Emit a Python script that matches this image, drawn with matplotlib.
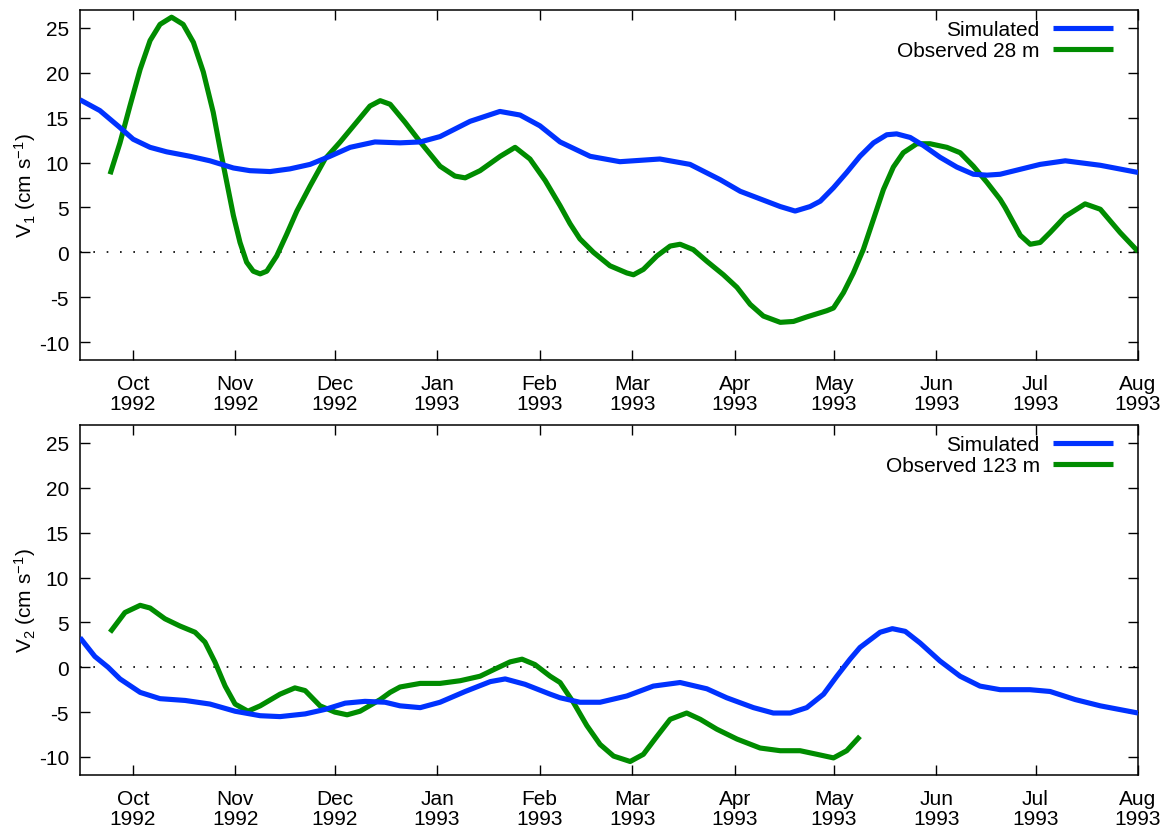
import numpy as np
import matplotlib
matplotlib.use("Agg")
import matplotlib.pyplot as plt
import matplotlib.dates as mdates

plt.rcParams['font.family'] = ['Liberation Sans', 'DejaVu Sans']
plt.rcParams['mathtext.fontset'] = 'custom'
plt.rcParams['mathtext.rm'] = 'Liberation Sans'
plt.rcParams['mathtext.it'] = 'Liberation Sans:italic'
plt.rcParams['axes.unicode_minus'] = False

# days since 1992-09-15
t0 = np.datetime64('1992-09-15')

sim1_days = [0, 6.0, 12.1, 16.1, 21.2, 26.2, 33.3, 39.3, 46.4, 51.4, 57.5, 63.5, 69.6, 75.6,
             81.7, 89.2, 96.8, 102.9, 108.9, 118.0, 127.0, 133.1, 139.1, 145.2, 154.3, 163.3,
             175.4, 184.5, 193.6, 199.7, 211.8, 216.3, 220.8, 223.9, 227.9, 231.9, 235.9,
             240.0, 244.0, 247.0, 251.1, 255.1, 260.1, 265.2, 270.2, 274.3, 278.3, 290.4,
             298.0, 308.6, 320.0]
sim1 = [17.0, 15.8, 13.9, 12.6, 11.7, 11.2, 10.7, 10.2, 9.4, 9.1, 9.0, 9.3, 9.8, 10.7,
        11.7, 12.3, 12.2, 12.3, 12.9, 14.6, 15.7, 15.3, 14.1, 12.3, 10.7, 10.1,
        10.4, 9.8, 8.1, 6.8, 5.1, 4.6, 5.1, 5.7, 7.2, 8.9, 10.7,
        12.2, 13.1, 13.2, 12.8, 11.9, 10.6, 9.5, 8.7, 8.6, 8.7, 9.8,
        10.2, 9.7, 8.9]

obs1_days = [9.1, 12.1, 15.1, 18.2, 21.2, 24.2, 27.7, 31.2, 34.3, 37.3, 40.3, 42.4, 44.4,
             46.4, 48.4, 50.4, 52.4, 54.5, 56.5, 59.5, 62.5, 65.6, 69.6, 74.1, 78.7, 83.2,
             87.7, 90.8, 93.8, 98.3, 102.9, 108.9, 113.4, 116.5, 121.0, 127.1, 131.6, 136.1,
             140.7, 145.2, 148.2, 151.2, 155.3, 160.3, 165.4, 167.4, 170.4, 174.5, 178.5,
             181.5, 185.5, 189.6, 194.6, 198.7, 202.7, 206.7, 211.8, 215.8, 219.8, 225.9,
             227.9, 230.9, 233.9, 236.9, 240.0, 243.0, 246.0, 249.0, 253.1, 257.1, 262.2,
             266.2, 270.2, 274.3, 278.3, 279.8, 284.4, 287.4, 290.4, 293.4, 298.0, 304.0,
             308.6, 314.6, 320.0]
obs1 = [8.7, 12.2, 16.3, 20.4, 23.6, 25.4, 26.2, 25.4, 23.4, 20.1, 15.6, 11.5, 7.8,
        4.1, 1.1, -1.1, -2.1, -2.4, -2.1, -0.4, 2.0, 4.6, 7.4, 10.4, 12.3, 14.3,
        16.3, 16.9, 16.5, 14.5, 12.3, 9.6, 8.5, 8.3, 9.1, 10.7, 11.7, 10.4,
        8.0, 5.2, 3.2, 1.5, 0.0, -1.5, -2.3, -2.5, -1.9, -0.4, 0.7,
        0.9, 0.3, -1.0, -2.5, -3.9, -5.8, -7.1, -7.8, -7.7, -7.2, -6.5,
        -6.2, -4.5, -2.3, 0.3, 3.7, 7.0, 9.5, 11.1, 12.1, 12.1, 11.7,
        11.1, 9.6, 7.8, 5.9, 5.0, 1.9, 0.9, 1.1, 2.2, 4.0, 5.4,
        4.8, 2.2, 0.1]

sim2_days = [0, 4.5, 8.5, 12.1, 18.2, 24.2, 31.8, 39.3, 46.9, 54.5, 60.5, 68.1, 74.1, 80.2,
             86.2, 92.3, 96.8, 102.9, 108.9, 116.5, 124.1, 128.6, 134.6, 142.2, 145.2, 151.2,
             157.3, 165.4, 173.4, 181.5, 189.6, 195.6, 203.7, 209.7, 214.8, 219.8, 224.9,
             228.9, 232.9, 235.9, 242.0, 245.7, 249.6, 254.1, 260.1, 266.2, 272.2, 278.3,
             287.3, 293.4, 301.0, 308.6, 320.0]
sim2 = [3.3, 1.2, 0.0, -1.3, -2.8, -3.5, -3.7, -4.1, -4.9, -5.4, -5.5, -5.2, -4.7, -4.0,
        -3.8, -3.9, -4.3, -4.5, -3.9, -2.7, -1.6, -1.3, -1.9, -3.0, -3.4, -3.9,
        -3.9, -3.2, -2.1, -1.7, -2.4, -3.4, -4.5, -5.1, -5.1, -4.5, -3.0,
        -1.0, 0.9, 2.2, 3.9, 4.3, 4.0, 2.7, 0.7, -1.0, -2.1, -2.5,
        -2.5, -2.7, -3.6, -4.3, -5.1]

obs2_days = [9.1, 13.6, 18.2, 21.2, 25.7, 30.2, 34.8, 37.8, 40.8, 43.9, 46.9, 50.8, 54.5,
             60.5, 65.0, 68.1, 72.6, 77.1, 80.8, 84.7, 90.8, 93.8, 96.8, 102.9, 108.9, 115.0,
             121.0, 125.5, 130.1, 133.7, 137.6, 142.2, 145.2, 149.2, 153.3, 157.3, 161.4,
             166.4, 170.4, 174.5, 178.5, 183.5, 187.6, 192.6, 198.7, 205.7, 211.8, 217.8,
             222.9, 227.9, 231.9, 235.9]
obs2 = [3.9, 6.1, 6.9, 6.6, 5.4, 4.6, 3.9, 2.8, 0.6, -2.1, -4.1, -4.9, -4.3,
        -3.0, -2.3, -2.6, -4.3, -5.0, -5.3, -4.9, -3.6, -2.8, -2.2, -1.8, -1.8, -1.5,
        -1.0, -0.2, 0.6, 0.9, 0.3, -1.0, -1.7, -3.9, -6.5, -8.6, -9.9,
        -10.5, -9.7, -7.7, -5.8, -5.1, -5.8, -6.9, -8.0, -9.0, -9.3, -9.3,
        -9.7, -10.1, -9.3, -7.7]

panels = [
    (sim1_days, sim1, obs1_days, obs1, 'Observed 28 m', 'V$_1$ (cm s$^{-1}$)'),
    (sim2_days, sim2, obs2_days, obs2, 'Observed 123 m', 'V$_2$ (cm s$^{-1}$)'),
]

month_ticks = [np.datetime64(m) for m in
               ['1992-10-01', '1992-11-01', '1992-12-01', '1993-01-01', '1993-02-01',
                '1993-03-01', '1993-04-01', '1993-05-01', '1993-06-01', '1993-07-01',
                '1993-08-01']]


def to_dates(days):
    return t0 + (np.array(days) * 24 * 3600).astype('timedelta64[s]')


blue = '#0032ff'
green = '#008c00'

fig = plt.figure(figsize=(11.66, 8.29), dpi=100)
boxes = [[0.0686, 0.5645, 0.9074, 0.4222], [0.0686, 0.0640, 0.9074, 0.4222]]

for box, (sd, sv, od, ov, olab, ylab) in zip(boxes, panels):
    ax = fig.add_axes(box)
    ax.axhline(0, color='k', lw=1.2, linestyle=(0, (1, 7)), zorder=1)
    ax.plot(to_dates(sd), sv, color=blue, lw=3.7, label='Simulated',
            solid_joinstyle='round', solid_capstyle='butt', zorder=3)
    ax.plot(to_dates(od), ov, color=green, lw=3.7, label=olab,
            solid_joinstyle='round', solid_capstyle='butt', zorder=2)
    ax.set_xlim(t0, np.datetime64('1993-08-01'))
    ax.set_ylim(-12, 27)
    ax.set_yticks([-10, -5, 0, 5, 10, 15, 20, 25])
    ax.set_xticks(month_ticks)
    ax.xaxis.set_major_formatter(mdates.DateFormatter('%b\n%Y'))
    ax.tick_params(direction='in', length=7, width=1, top=True, right=True,
                   labelsize=15)
    ax.tick_params(axis='x', pad=10)
    ax.tick_params(axis='y', pad=8)
    for lab in ax.get_xticklabels():
        lab.set_linespacing(1.1)
    for s in ax.spines.values():
        s.set_linewidth(1.1)
    ax.set_ylabel(ylab, fontsize=15, labelpad=0.5)
    leg = ax.legend(loc='upper right', bbox_to_anchor=(0.980, 0.983), frameon=False,
                    markerfirst=False, fontsize=15, handlelength=2.85,
                    handletextpad=0.65, labelspacing=0.1, borderaxespad=0,
                    borderpad=0.2)
    for line in leg.get_lines():
        line.set_linewidth(3.7)

fig.savefig('out.png', dpi=100)
